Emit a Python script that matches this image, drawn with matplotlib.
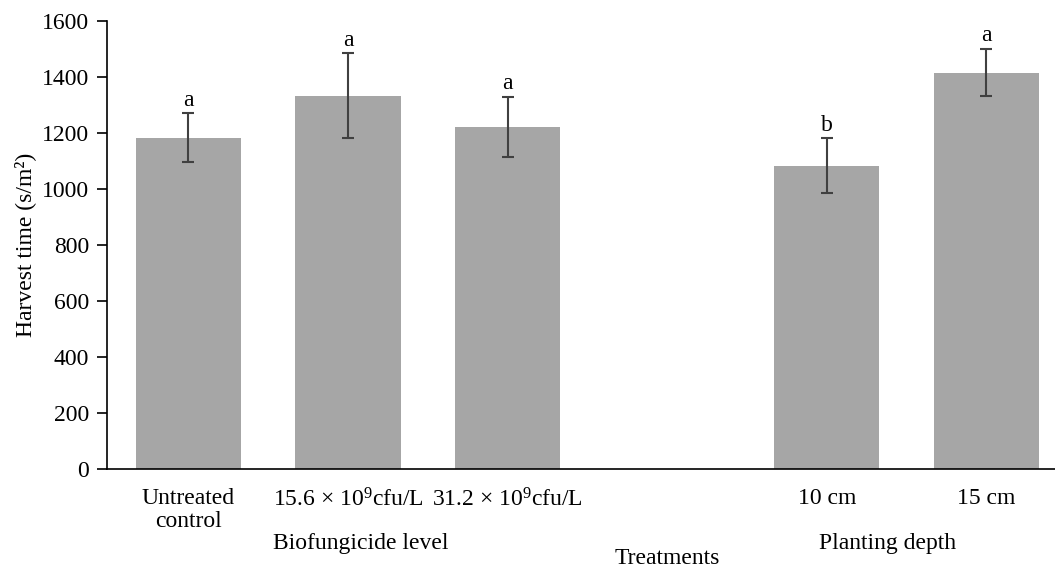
import numpy as np
import matplotlib
matplotlib.use("Agg")
import matplotlib.pyplot as plt
from matplotlib.transforms import blended_transform_factory

plt.rcParams['font.family'] = ['Liberation Serif', 'DejaVu Serif']
plt.rcParams['mathtext.fontset'] = 'custom'
plt.rcParams['mathtext.rm'] = 'Liberation Serif'
plt.rcParams['mathtext.it'] = 'Liberation Serif:italic'

# data
labels = ["Untreated\ncontrol", "15.6 × 10$^{9}$cfu/L", "31.2 × 10$^{9}$cfu/L",
          "10 cm", "15 cm"]
positions = [0, 1, 2, 4, 5]   # slot 3 is left empty between groups
means = [1183, 1333, 1221, 1082, 1415]
errors = [86, 150, 107, 98, 84]
letters = ["a", "a", "a", "b", "a"]
group_names = ["Biofungicide level", "Planting depth"]
group_pos = [1.08, 4.38]

FS = 17

fig = plt.figure(figsize=(10.55, 5.69), dpi=100)
ax = fig.add_axes([0.1014, 0.1757, 0.8986, 0.7879])

ax.bar(positions, means, width=0.66, color="#a6a6a6", zorder=2)
ax.errorbar(positions, means, yerr=errors, fmt="none", ecolor="#404040",
            elinewidth=1.5, capsize=4, capthick=1.5, zorder=3)
for p, m, e, l in zip(positions, means, errors, letters):
    ax.text(p, m + e + 10, l, ha="center", va="bottom", fontsize=FS)

ax.set_xlim(-0.51, 5.43)
ax.set_ylim(0, 1600)
ax.set_yticks(np.arange(0, 1601, 200))
ax.set_xticks(positions)
ax.set_xticklabels(labels, fontsize=FS, linespacing=1.1)
ax.tick_params(axis="x", length=0, pad=14)
ax.tick_params(axis="y", labelsize=FS, direction="out", length=7, width=1.2, pad=6)
for s in ["top", "right"]:
    ax.spines[s].set_visible(False)
ax.spines["left"].set_linewidth(1.2)
ax.spines["bottom"].set_linewidth(1.2)

ax.set_ylabel("Harvest time (s/m²)", fontsize=FS, labelpad=4)

trans = blended_transform_factory(ax.transData, fig.transFigure)
for g, x in zip(group_names, group_pos):
    ax.text(x, (569 - 544) / 569, g, transform=trans, ha="center", va="center", fontsize=FS)
ax.text(3.0, (569 - 558) / 569, "Treatments", transform=trans, ha="center", va="center", fontsize=FS)

fig.savefig("out.png", dpi=100)
